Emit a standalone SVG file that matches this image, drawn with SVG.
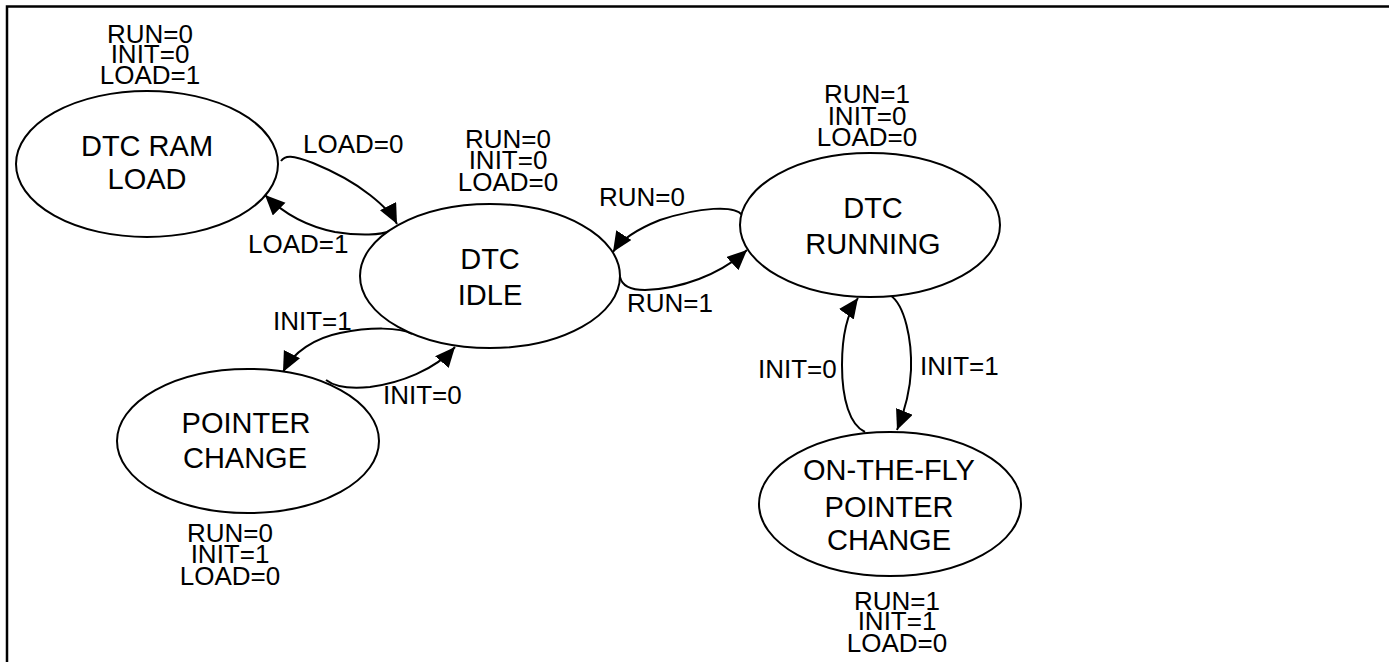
<svg xmlns="http://www.w3.org/2000/svg" width="1389" height="662" viewBox="0 0 1389 662">
<defs>
<marker id="arr" markerUnits="userSpaceOnUse" markerWidth="22" markerHeight="20" refX="20" refY="9" orient="auto">
<path d="M0,0 L20,9 L0,18 z" fill="#000"/>
</marker>
<style>
.node ellipse{fill:#fff;stroke:#000;stroke-width:2}
.nt{font-family:"Liberation Sans",Arial,sans-serif;font-size:29px;fill:#000;text-anchor:middle}
.lb{font-family:"Liberation Sans",Arial,sans-serif;font-size:26px;fill:#000;text-anchor:middle}
.el{font-family:"Liberation Sans",Arial,sans-serif;font-size:26px;fill:#000}
.conn path{fill:none;stroke:#000;stroke-width:2;marker-end:url(#arr)}
</style>
</defs>
<rect width="1389" height="662" fill="#fff"/>
<path d="M7,662 V6.5 H1389" fill="none" stroke="#000" stroke-width="2.5"/>

<g id="connectors" class="conn">
<path id="e-load0" d="M281,161 C285,155 292,155 313,163 C335,172 355,183 370,195 C384,206 392,214 397,224"/>
<path id="e-load1" d="M390,231 C382,235 360,236 335,232 C310,227 285,215 265,195"/>
<path id="e-run0" d="M742,215 C735,205 700,207 660,220 C640,228 622,238 613,252"/>
<path id="e-run1" d="M620,277 C622,286 630,290 645,290 C680,289 720,275 747,250"/>
<path id="e-init1a" d="M412,334 C400,327 370,327 340,333 C315,338 293,352 283,372"/>
<path id="e-init0a" d="M326,380 C335,387 350,389 370,387 C400,383 435,370 455,347"/>
<path id="e-init1b" d="M890,295 C905,305 912,340 911,370 C910,395 903,415 897,430"/>
<path id="e-init0b" d="M865,432 C850,425 842,400 842,365 C842,335 848,312 858,298"/>
<text class="el" x="303" y="153">LOAD=0</text>
<text class="el" x="248" y="253">LOAD=1</text>
<text class="el" x="599" y="206">RUN=0</text>
<text class="el" x="627" y="312">RUN=1</text>
<text class="el" x="273" y="330">INIT=1</text>
<text class="el" x="383" y="404">INIT=0</text>
<text class="el" x="758" y="378">INIT=0</text>
<text class="el" x="920" y="375">INIT=1</text>
</g>

<g id="node-ramload" class="node">
<ellipse cx="147" cy="164" rx="131" ry="73"/>
<text class="nt" x="147" y="156">DTC RAM<tspan x="147" dy="33">LOAD</tspan></text>
<text class="lb" x="150" y="43">RUN=0<tspan x="150" dy="20">INIT=0</tspan><tspan x="150" dy="21">LOAD=1</tspan></text>
</g>

<g id="node-idle" class="node">
<ellipse cx="490" cy="276" rx="130" ry="72"/>
<text class="nt" x="490" y="269">DTC<tspan x="490" dy="36">IDLE</tspan></text>
<text class="lb" x="508" y="148">RUN=0<tspan x="508" dy="21">INIT=0</tspan><tspan x="508" dy="22">LOAD=0</tspan></text>
</g>

<g id="node-running" class="node">
<ellipse cx="870" cy="225" rx="130" ry="72"/>
<text class="nt" x="873" y="218">DTC<tspan x="873" dy="36">RUNNING</tspan></text>
<text class="lb" x="867" y="103">RUN=1<tspan x="867" dy="22">INIT=0</tspan><tspan x="867" dy="21">LOAD=0</tspan></text>
</g>

<g id="node-pointer" class="node">
<ellipse cx="248" cy="441" rx="131" ry="72"/>
<text class="nt" x="246" y="433">POINTER<tspan x="245" dy="35">CHANGE</tspan></text>
<text class="lb" x="230" y="542">RUN=0<tspan x="230" dy="21">INIT=1</tspan><tspan x="230" dy="22">LOAD=0</tspan></text>
</g>

<g id="node-onthefly" class="node">
<ellipse cx="890" cy="504" rx="131" ry="72"/>
<text class="nt" x="889" y="480">ON-THE-FLY<tspan x="889" dy="37">POINTER</tspan><tspan x="889" dy="33">CHANGE</tspan></text>
<text class="lb" x="897" y="610">RUN=1<tspan x="897" dy="20">INIT=1</tspan><tspan x="897" dy="22">LOAD=0</tspan></text>
</g>
</svg>
